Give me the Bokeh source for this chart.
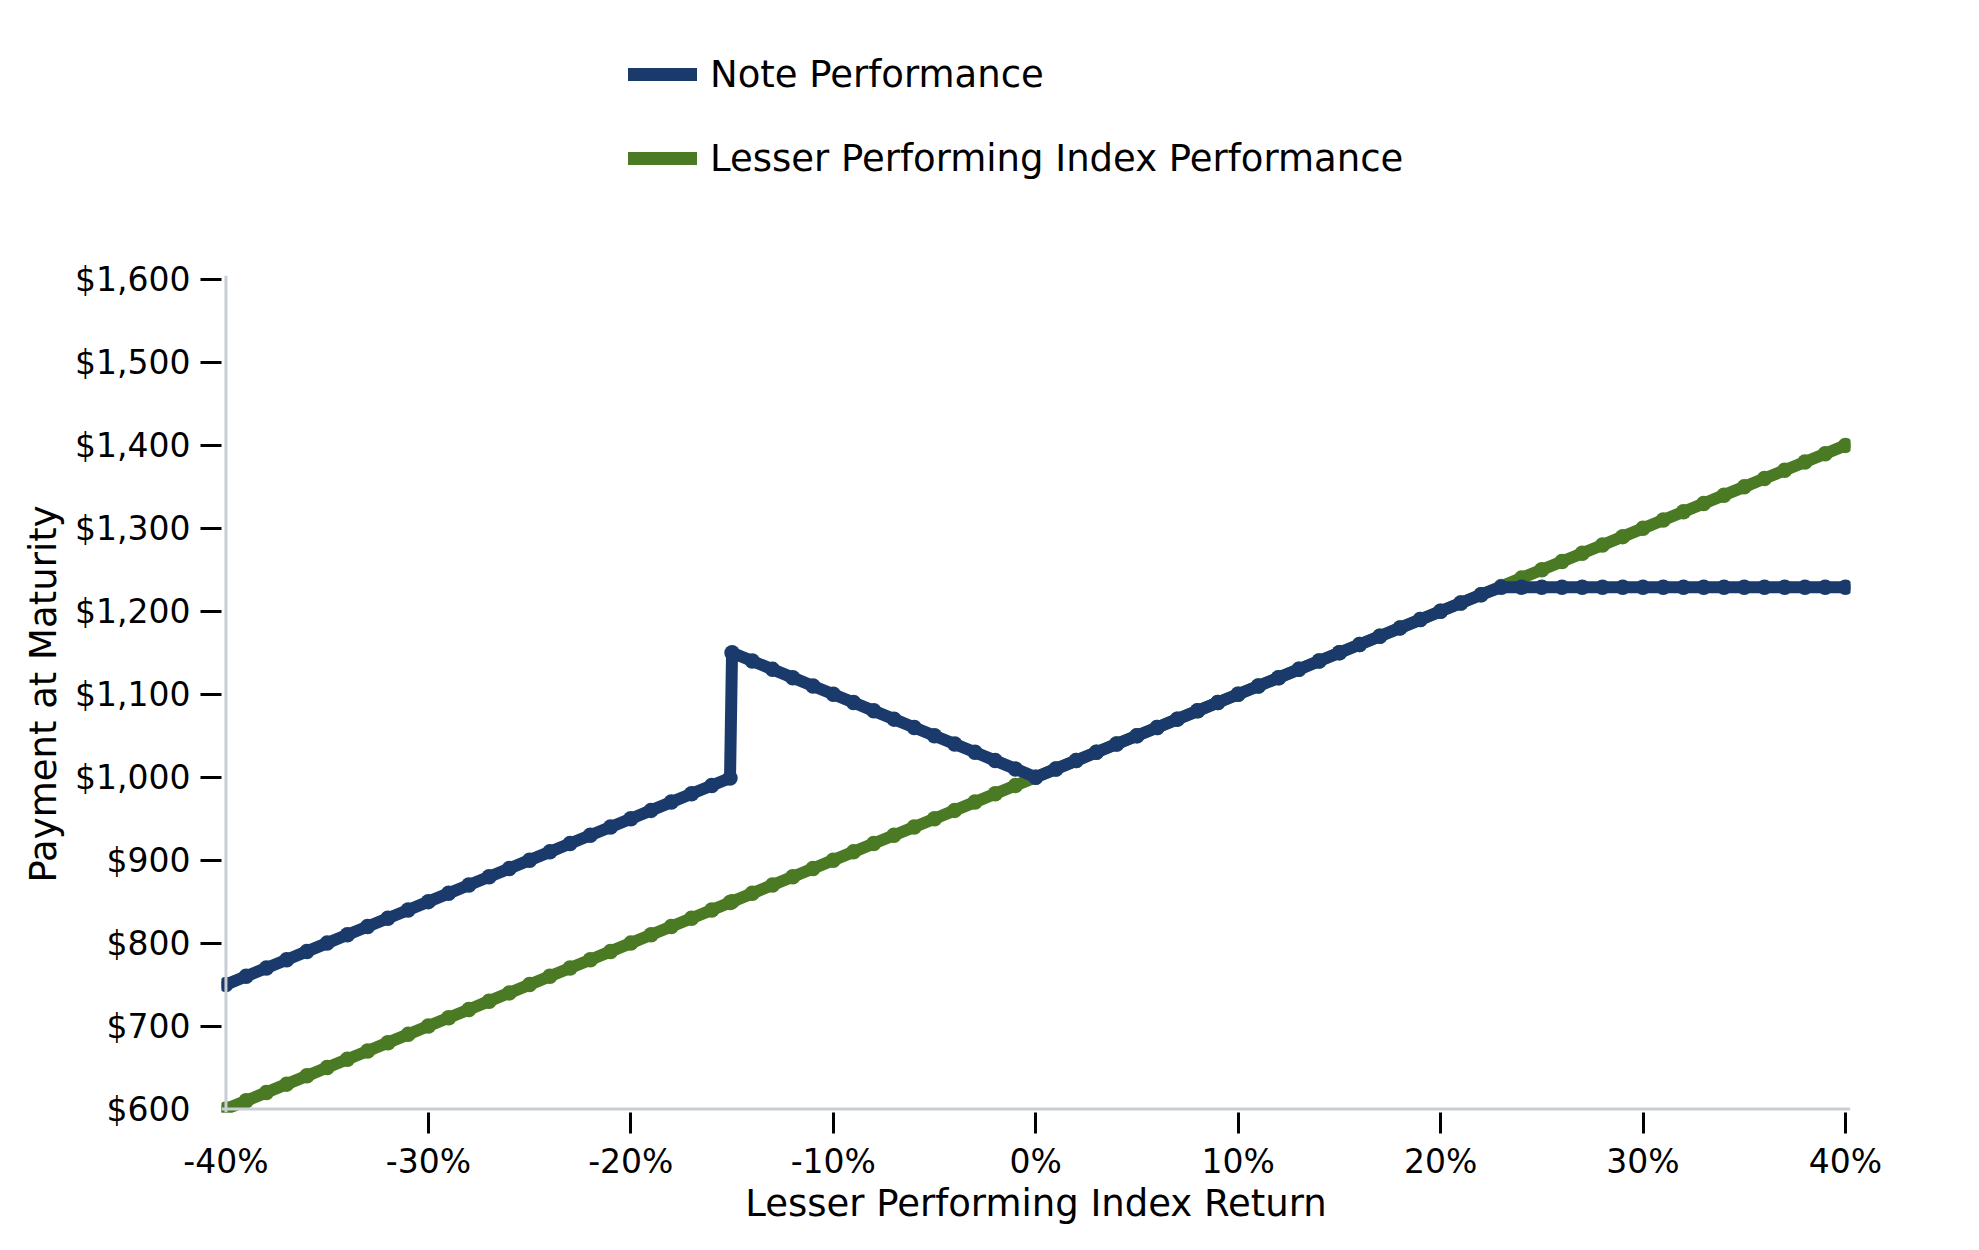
from bokeh.plotting import figure
from bokeh.layouts import column
from bokeh.models import Range1d, LinearAxis, FixedTicker, Span, Legend, LegendItem
from bokeh.embed import file_html
from bokeh.resources import INLINE

# ---- data ----
returns = [-40, -39, -38, -37, -36, -35, -34, -33, -32, -31, -30, -29, -28, -27, -26,
           -25, -24, -23, -22, -21, -20, -19, -18, -17, -16, -15.1, -15, -14, -13, -12,
           -11, -10, -9, -8, -7, -6, -5, -4, -3, -2, -1, 0, 1, 2, 3, 4, 5, 6, 7, 8, 9,
           10, 11, 12, 13, 14, 15, 16, 17, 18, 19, 20, 21, 22, 23, 24, 25, 26, 27, 28,
           29, 30, 31, 32, 33, 34, 35, 36, 37, 38, 39, 40]

note_perf = [750, 760, 770, 780, 790, 800, 810, 820, 830, 840, 850, 860, 870, 880, 890,
             900, 910, 920, 930, 940, 950, 960, 970, 980, 990, 999, 1150, 1140, 1130, 1120,
             1110, 1100, 1090, 1080, 1070, 1060, 1050, 1040, 1030, 1020, 1010, 1000, 1010,
             1020, 1030, 1040, 1050, 1060, 1070, 1080, 1090, 1100, 1110, 1120, 1130, 1140,
             1150, 1160, 1170, 1180, 1190, 1200, 1210, 1220, 1229, 1229, 1229, 1229, 1229,
             1229, 1229, 1229, 1229, 1229, 1229, 1229, 1229, 1229, 1229, 1229, 1229, 1229]

index_perf = [600, 610, 620, 630, 640, 650, 660, 670, 680, 690, 700, 710, 720, 730, 740,
              750, 760, 770, 780, 790, 800, 810, 820, 830, 840, 849, 850, 860, 870, 880,
              890, 900, 910, 920, 930, 940, 950, 960, 970, 980, 990, 1000, 1010, 1020, 1030,
              1040, 1050, 1060, 1070, 1080, 1090, 1100, 1110, 1120, 1130, 1140, 1150, 1160,
              1170, 1180, 1190, 1200, 1210, 1220, 1230, 1240, 1250, 1260, 1270, 1280, 1290,
              1300, 1310, 1320, 1330, 1340, 1350, 1360, 1370, 1380, 1390, 1400]

x_ticks = [-40, -30, -20, -10, 0, 10, 20, 30, 40]
x_labels = ["-40%", "-30%", "-20%", "-10%", "0%", "10%", "20%", "30%", "40%"]
y_ticks = [600, 700, 800, 900, 1000, 1100, 1200, 1300, 1400, 1500, 1600]
y_labels = ["$600", "$700", "$800", "$900", "$1,000", "$1,100", "$1,200", "$1,300",
            "$1,400", "$1,500", "$1,600"]

series_names = ["Note Performance", "Lesser Performing Index Performance"]
x_title = "Lesser Performing Index Return"
y_title = "Payment at Maturity"

BLUE = "#1b3a6c"
GREEN = "#4a7a23"
SPINE = "#c9ced4"
FONT = "DejaVu Sans"

LEG_H = 200
TOTAL_H = 1236

# ---------- legend strip (its frame is aligned with the main chart's frame) ----------
pl = figure(width=1963, height=LEG_H, output_backend="svg", toolbar_location=None,
            x_range=Range1d(0, 1), y_range=Range1d(0, 1),
            x_axis_location=None, y_axis_location=None, min_border=0)
pl.outline_line_color = None
pl.grid.visible = False
# same series, but entirely outside this strip's visible ranges: only the legend shows
lb = pl.line(returns, note_perf, line_color=BLUE, line_width=13, line_cap="round")
lg = pl.line(returns, index_perf, line_color=GREEN, line_width=13, line_cap="round")
legend = Legend(items=[LegendItem(label=series_names[0], renderers=[lb]),
                       LegendItem(label=series_names[1], renderers=[lg])],
                location=(407, 20), orientation="vertical",
                border_line_color=None, background_fill_alpha=0,
                padding=0, margin=0, spacing=40, glyph_width=69, glyph_height=44,
                label_height=44, label_standoff=13,
                label_text_font=FONT, label_text_font_size="37px",
                label_text_color="black")
pl.add_layout(legend, "center")

# ---------- main chart ----------
p = figure(width=1963, height=TOTAL_H - LEG_H, output_backend="svg", toolbar_location=None,
           x_range=Range1d(-40.22, 40.25), y_range=Range1d(595.8, 1604.8),
           x_axis_location=None, y_axis_location=None,
           min_border_left=221, min_border_right=113, min_border_top=275 - LEG_H,
           min_border_bottom=TOTAL_H - 1112)
p.outline_line_color = None
p.background_fill_color = "white"
p.border_fill_color = "white"
p.grid.visible = False

# spines
p.add_layout(Span(location=y_ticks[0], dimension="width", line_color=SPINE, line_width=3))
p.add_layout(Span(location=x_ticks[0], dimension="height", line_color=SPINE, line_width=3))

# tick-mark-only axes (closest to the frame)
xt = LinearAxis(ticker=FixedTicker(ticks=x_ticks[1:]), axis_line_color=None,
                major_tick_in=0, major_tick_out=21, major_tick_line_width=3,
                major_tick_line_color="black", minor_tick_line_color=None,
                major_label_text_font_size="0px", major_label_text_alpha=0,
                major_label_standoff=0)
yt = LinearAxis(ticker=FixedTicker(ticks=y_ticks[1:]), axis_line_color=None,
                major_tick_in=0, major_tick_out=21, major_tick_line_width=3,
                major_tick_line_color="black", minor_tick_line_color=None,
                major_label_text_font_size="0px", major_label_text_alpha=0,
                major_label_standoff=0)
p.add_layout(xt, "below")
p.add_layout(yt, "left")

# label axes
xl = LinearAxis(ticker=FixedTicker(ticks=x_ticks),
                major_label_overrides=dict(zip(x_ticks, x_labels)),
                axis_line_color=None, major_tick_line_color=None, major_tick_in=0,
                major_tick_out=0, minor_tick_line_color=None, major_label_standoff=8,
                major_label_text_font=FONT, major_label_text_font_size="33px",
                major_label_text_color="black",
                axis_label=x_title, axis_label_text_font=FONT,
                axis_label_text_font_size="37px", axis_label_text_font_style="normal",
                axis_label_text_color="black", axis_label_standoff=-2)
yl = LinearAxis(ticker=FixedTicker(ticks=y_ticks),
                major_label_overrides=dict(zip(y_ticks, y_labels)),
                axis_line_color=None, major_tick_line_color=None, major_tick_in=0,
                major_tick_out=0, minor_tick_line_color=None, major_label_standoff=10,
                major_label_text_font=FONT, major_label_text_font_size="33px",
                major_label_text_color="black",
                axis_label=y_title, axis_label_text_font=FONT,
                axis_label_text_font_size="37px", axis_label_text_font_style="normal",
                axis_label_text_color="black", axis_label_standoff=7)
p.add_layout(xl, "below")
p.add_layout(yl, "left")

# series
p.line(returns, index_perf, line_color=GREEN, line_width=12,
       line_cap="round", line_join="round")
p.scatter(returns, index_perf, marker="circle", size=15.5, fill_color=GREEN, line_color=None)
p.line(returns, note_perf, line_color=BLUE, line_width=12,
       line_cap="round", line_join="round")
p.scatter(returns, note_perf, marker="circle", size=15.5, fill_color=BLUE, line_color=None)

layout = column(pl, p, spacing=0)
open("out.html", "w").write(file_html(layout, INLINE))
